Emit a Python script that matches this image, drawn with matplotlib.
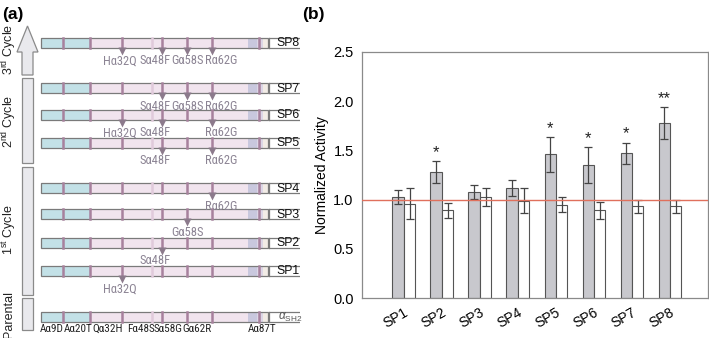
import matplotlib
matplotlib.use('Agg')
import matplotlib.pyplot as plt
from matplotlib import font_manager
from matplotlib.font_manager import FontProperties
from matplotlib.textpath import TextPath
from matplotlib.patches import Rectangle, Polygon
import numpy as np

plt.rcParams['font.family'] = ['Liberation Sans', 'DejaVu Sans']
plt.rcParams['mathtext.fontset'] = 'custom'
plt.rcParams['mathtext.rm'] = 'Liberation Sans'
plt.rcParams['mathtext.it'] = 'Liberation Sans:italic'

# panel (b) data
cats = ['SP1', 'SP2', 'SP3', 'SP4', 'SP5', 'SP6', 'SP7', 'SP8']
act_gray = [1.03, 1.28, 1.08, 1.12, 1.46, 1.35, 1.47, 1.78]
err_gray = [0.07, 0.11, 0.07, 0.08, 0.18, 0.18, 0.11, 0.16]
act_white = [0.96, 0.89, 1.03, 0.99, 0.95, 0.89, 0.93, 0.93]
err_white = [0.16, 0.08, 0.09, 0.13, 0.08, 0.09, 0.065, 0.065]
stars = ['', '*', '', '', '*', '*', '*', '**']

# panel (a) data
variants = ['SP8', 'SP7', 'SP6', 'SP5', 'SP4', 'SP3', 'SP2', 'SP1']
mutations = {
    'SP8': ['Hα32Q', 'Sα48F', 'Gα58S', 'Rα62G'],
    'SP7': ['Sα48F', 'Gα58S', 'Rα62G'],
    'SP6': ['Hα32Q', 'Sα48F', 'Rα62G'],
    'SP5': ['Sα48F', 'Rα62G'],
    'SP4': ['Rα62G'],
    'SP3': ['Gα58S'],
    'SP2': ['Sα48F'],
    'SP1': ['Hα32Q'],
}
parental_sites = ['Aα9D', 'Aα20T', 'Qα32H', 'Fα48S', 'Sα58G', 'Gα62R', 'Aα87T']

# schematic layout (pixel units of the left panel)
row_y = {'SP8': 43, 'SP7': 88, 'SP6': 115, 'SP5': 143, 'SP4': 188,
         'SP3': 214, 'SP2': 243, 'SP1': 271, 'Parental': 317}
tri_x = {'Hα32Q': 122, 'Sα48F': 162, 'Gα58S': 187, 'Rα62G': 212}
lab_x = {'Hα32Q': 120, 'Sα48F': 155, 'Gα58S': 187, 'Rα62G': 221}
site_x = [52, 78, 108, 141, 168, 197, 262]

# a narrow face for the crowded site labels, if one is installed
names = {f.name for f in font_manager.fontManager.ttflist}
narrow = ['Liberation Sans', 'DejaVu Sans']
for cand in ['Liberation Sans Narrow', 'Arial Narrow', 'Roboto Condensed', 'PT Sans Narrow',
             'Archivo Narrow', 'Fira Sans Condensed', 'IBM Plex Sans Condensed',
             'Encode Sans Condensed', 'Barlow Semi Condensed']:
    if cand in names:
        narrow = [cand, 'Liberation Sans']
        break


def fit_size(text, target_px, cap=9):
    # font size (pt) that makes text about target_px wide
    tp = TextPath((0, 0), text, size=10, prop=FontProperties(family=narrow))
    w = tp.get_extents().width * 100 / 72
    return min(cap, 10 * target_px / w)


mut_fs = fit_size('Hα32Q', 35)
site_fs = fit_size('Aα20T', 28.5)

fig = plt.figure(figsize=(7.09, 3.38), dpi=100)

# ---------------- panel (a) ----------------
axa = fig.add_axes([0, 0, 300 / 709, 1])
axa.set_xlim(0, 300)
axa.set_ylim(338, 0)
axa.axis('off')


def draw_bar(y, label, sub=False):
    h = 10
    top = y - h / 2
    axa.add_patch(Rectangle((41, top), 49, h, fc='#c3e1e7', ec='none'))
    axa.add_patch(Rectangle((90, top), 158, h, fc='#f1e4ee', ec='none'))
    axa.add_patch(Rectangle((248, top), 9, h, fc='#c9c8de', ec='none'))
    axa.add_patch(Rectangle((257, top), 6, h, fc='#dcd6e6', ec='none'))
    axa.add_patch(Rectangle((263, top), 5, h, fc='#f2ece6', ec='none'))
    for x in [63, 90, 122, 162, 187, 212, 259]:
        axa.plot([x, x], [top, top + h], color='#a7819d', lw=1.8)
    axa.plot([152, 152], [top, top + h], color='#e0cadb', lw=1.8)
    axa.add_patch(Rectangle((41, top), 227, h, fc='none', ec='#7a7a7a', lw=0.9))
    axa.plot([269, 300], [top, top], color='#7a7a7a', lw=0.9)
    axa.plot([269, 300], [top + h, top + h], color='#7a7a7a', lw=0.9)
    axa.plot([269, 269], [top, top + h], color='#7a7a7a', lw=0.9)
    if sub:
        axa.text(278, y + 0.5, label, fontsize=8.5, va='center', ha='left', color='#555555')
    else:
        axa.text(276, y + 0.5, label, fontsize=8.8, va='center', ha='left', color='#111111')


for v in variants:
    y = row_y[v]
    draw_bar(y, v)
    for m in mutations[v]:
        axa.plot(tri_x[m], y + 7.5, marker='v', ms=6, color='#8c7a8c', mec='none')
        axa.text(lab_x[m], y + 18, m, fontsize=mut_fs, family=narrow,
                 ha='center', va='center', color='#8c8494')

draw_bar(row_y['Parental'], r'$\alpha_{\mathrm{SH2}}$', sub=True)
for s, x in zip(parental_sites, site_x):
    axa.text(x, 329, s, fontsize=site_fs, family=narrow, ha='center', va='center', color='#222222')

# cycle arrow and boxes
box_kw = dict(fc='#e9e9ed', ec='#8a8a8a', lw=0.9)
axa.add_patch(Polygon([(22, 75), (22, 52), (17, 52), (27.5, 26), (38, 52), (33, 52), (33, 75)],
                      closed=True, **box_kw))
axa.add_patch(Rectangle((22, 78), 11, 85, **box_kw))
axa.add_patch(Rectangle((22, 167), 11, 128, **box_kw))
axa.add_patch(Rectangle((22, 298), 11, 32, **box_kw))

cyc_kw = dict(fontsize=9, rotation=90, ha='center', va='center', color='#222222')
axa.text(9, 49, r'3$^{\mathrm{rd}}$ Cycle', **cyc_kw)
axa.text(9, 121, r'2$^{\mathrm{nd}}$ Cycle', **cyc_kw)
axa.text(9, 230, r'1$^{\mathrm{st}}$ Cycle', **cyc_kw)
axa.text(9, 315, 'Parental', **cyc_kw)

fig.text(2 / 709, 1 - 14 / 338, '(a)', fontsize=12.5, fontweight='bold', va='center', ha='left')
fig.text(302 / 709, 1 - 14 / 338, '(b)', fontsize=12.5, fontweight='bold', va='center', ha='left')

# ---------------- panel (b) ----------------
axb = fig.add_axes([362 / 709, 40 / 338, 346 / 709, 246 / 338])
x = np.arange(len(cats))
w = 0.30
ekw = dict(ecolor='#444444', elinewidth=0.9, capsize=3, capthick=0.9)
axb.bar(x - w / 2, act_gray, w, yerr=err_gray, color='#c8c8cd', edgecolor='#555555',
        linewidth=0.8, error_kw=ekw, zorder=2)
axb.bar(x + w / 2, act_white, w, yerr=err_white, color='white', edgecolor='#555555',
        linewidth=0.8, error_kw=ekw, zorder=2)
axb.axhline(1.0, color='#e0705c', lw=1.0, zorder=3)

for i, s in enumerate(stars):
    if s:
        axb.text(x[i] - w / 2, act_gray[i] + err_gray[i] + 0.01, s, ha='center', va='bottom',
                 fontsize=12, color='#222222')

axb.set_xlim(-1.1, 8.0)
axb.set_ylim(0, 2.5)
axb.set_yticks([0, 0.5, 1.0, 1.5, 2.0, 2.5])
axb.set_yticklabels(['0.0', '0.5', '1.0', '1.5', '2.0', '2.5'])
axb.set_xticks(x)
axb.set_xticklabels(cats, rotation=30, ha='right', rotation_mode='anchor')
axb.tick_params(axis='x', length=0, labelsize=10, pad=5)
axb.tick_params(axis='y', length=0, labelsize=10.5, pad=6)
for sp in axb.spines.values():
    sp.set_color('#8a8a8a')
    sp.set_linewidth(0.9)
axb.set_ylabel('Normalized Activity', fontsize=10, labelpad=3)

fig.savefig('out.png', dpi=100)
